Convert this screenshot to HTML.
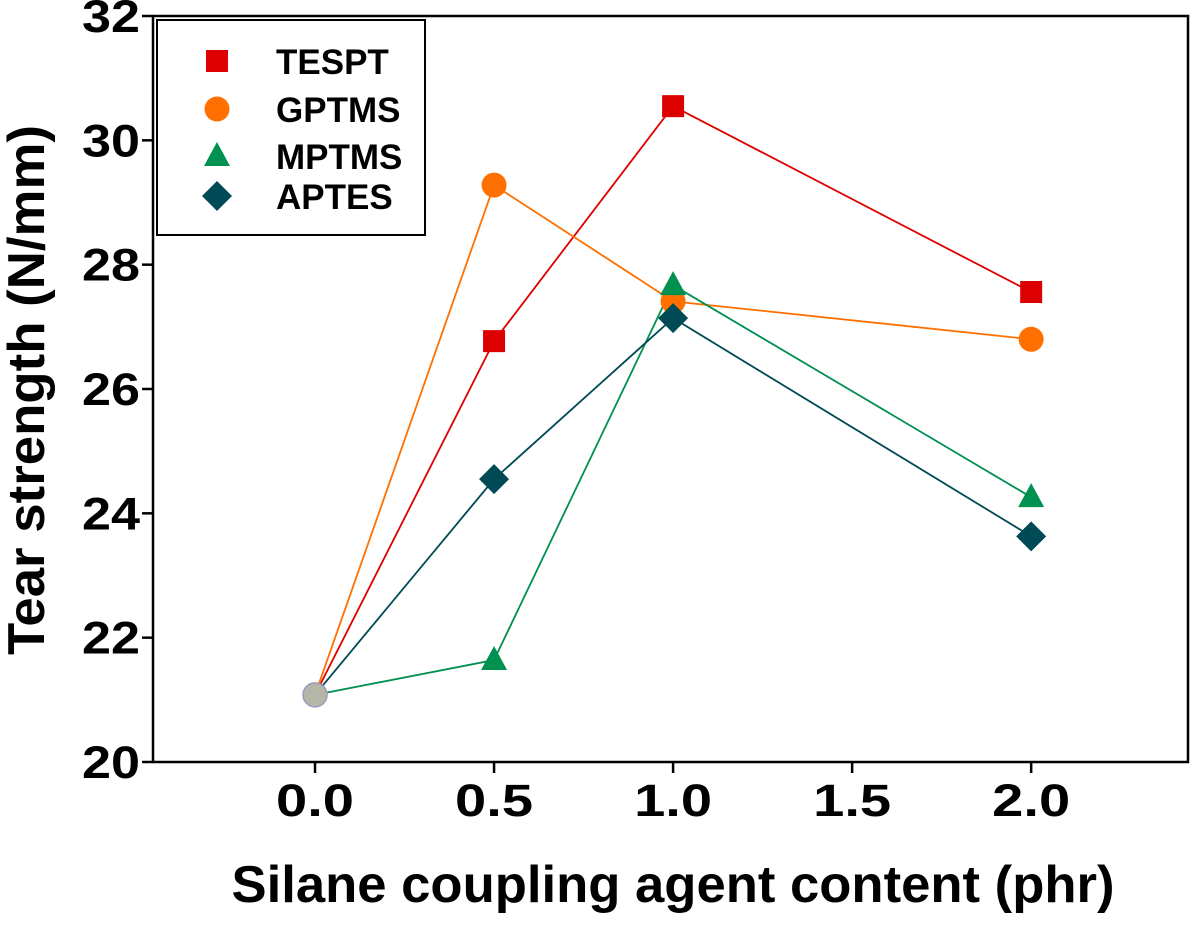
<!DOCTYPE html>
<html><head><meta charset="utf-8"><style>
html,body{margin:0;padding:0;background:#fff;}
svg text{font-family:"Liberation Sans",Arial,sans-serif;font-weight:bold;fill:#000;}
</style></head><body>
<svg id="chart" width="1193" height="928" xmlns="http://www.w3.org/2000/svg">
<g id="axes"></g>
<g id="series"></g>
<g id="legend"></g>
<text x="673" y="902" font-size="52" text-anchor="middle" textLength="883" lengthAdjust="spacingAndGlyphs">Silane coupling agent content (phr)</text>
<text transform="translate(44,390) rotate(-90)" font-size="52" text-anchor="middle" textLength="530" lengthAdjust="spacingAndGlyphs">Tear strength (N/mm)</text>
</svg>
<script>
const xTicks=[0,0.5,1.0,1.5,2.0];
const xTickLabels=["0.0","0.5","1.0","1.5","2.0"];
const yTicks=[20,22,24,26,28,30,32];
const seriesNames=["TESPT","GPTMS","MPTMS","APTES"];
const seriesColors=["#dd0000","#ff7000","#009050","#004a55"];
const xValues=[0,0.5,1.0,2.0];
const tesptValues=[21.08,26.77,30.55,27.56];
const gptmsValues=[21.08,29.28,27.41,26.8];
const mptmsValues=[21.08,21.64,27.67,24.26];
const aptesValues=[21.08,24.55,27.14,23.63];
const allValues=[tesptValues,gptmsValues,mptmsValues,aptesValues];

const NS="http://www.w3.org/2000/svg";
const L=153,R=1188,T=16,B=762;
const xMin=-0.4525,xMax=2.438,yMin=20,yMax=32;
function sx(v){return L+(v-xMin)/(xMax-xMin)*(R-L);}
function sy(v){return B-(v-yMin)/(yMax-yMin)*(B-T);}
function mk(tag,attrs,parent){const e=document.createElementNS(NS,tag);for(const k in attrs)e.setAttribute(k,attrs[k]);parent.appendChild(e);return e;}
const axes=document.getElementById('axes');
const frame=mk('rect',{x:L,y:T,width:R-L,height:B-T,fill:'none',stroke:'#000','stroke-width':2.5},axes);


xTicks.forEach((t,i)=>{
  const ln=mk('line',{x1:sx(t),x2:sx(t),y1:B,y2:B+11,stroke:'#000','stroke-width':2.5},axes);
  
  
  const tx=mk('text',{x:sx(t),y:B+54,'font-size':45,'text-anchor':'middle',textLength:78,lengthAdjust:'spacingAndGlyphs'},axes);
  tx.textContent=xTickLabels[i];
  
  
});
yTicks.forEach(t=>{
  const ln=mk('line',{x1:L-11,x2:L,y1:sy(t),y2:sy(t),stroke:'#000','stroke-width':2.5},axes);
  
  
  const tx=mk('text',{x:L-13,y:sy(t)+16,'font-size':45,'text-anchor':'end',textLength:58,lengthAdjust:'spacingAndGlyphs'},axes);
  tx.textContent=String(t);
  
  
});
function marker(kind,cx,cy,color,parent){
  let e;
  if(kind===0)e=mk('rect',{x:cx-11,y:cy-11,width:22,height:22,fill:color},parent);
  else if(kind===1)e=mk('circle',{cx:cx,cy:cy,r:12.5,fill:color},parent);
  else if(kind===2)e=mk('polygon',{points:`${cx},${cy-14} ${cx+13},${cy+10} ${cx-13},${cy+10}`,fill:color},parent);
  else e=mk('polygon',{points:`${cx},${cy-15} ${cx+15},${cy} ${cx},${cy+15} ${cx-15},${cy}`,fill:color},parent);
  return e;
}
const sg=document.getElementById('series');
allValues.forEach((vals,si)=>{
  const pts=vals.map((v,i)=>sx(xValues[i])+','+sy(v)).join(' ');
  const pl=mk('polyline',{points:pts,fill:'none',stroke:seriesColors[si],'stroke-width':1.8},sg);
  
  
});
allValues.forEach((vals,si)=>{
  vals.forEach((v,i)=>{
    if(i===0)return;
    const m=marker(si,sx(xValues[i]),sy(v),seriesColors[si],sg);
    
    
  });
});
const base=mk('circle',{cx:sx(xValues[0]),cy:sy(tesptValues[0]),r:12,fill:'#b5b5a8',stroke:'#9a9ac0','stroke-width':1.5},sg);


const lg=document.getElementById('legend');
const lb=mk('rect',{x:157,y:20,width:268,height:215,fill:'#fff',stroke:'#000','stroke-width':2},lg);


const rowY=[61,109,156,196];
seriesNames.forEach((n,i)=>{
  const m=marker(i,217,rowY[i],seriesColors[i],lg);
  
  
  const t=mk('text',{x:276,y:rowY[i]+13,'font-size':35},lg);
  t.textContent=n;
  
  
});
</script>
</body></html>
